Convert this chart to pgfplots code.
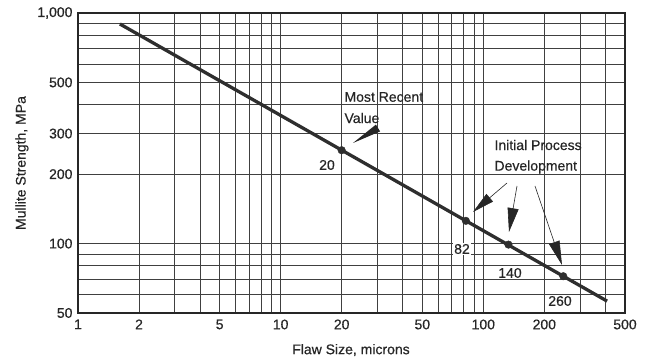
\documentclass[border=0pt]{standalone}
\usepackage{fontspec}
\setmainfont{Liberation Sans}[BoldFont=Liberation Sans, BoldFeatures={FakeBold=0.5}]
\usepackage{pgfplots}
\pgfplotsset{compat=1.18}
\usetikzlibrary{arrows.meta}
\begin{document}
\begin{tikzpicture}[x=1pt,y=1pt,font=\fontsize{14}{16}\selectfont\bfseries]
\useasboundingbox (0,0) rectangle (649,362);
\begin{axis}[
  at={(78pt,49pt)}, anchor=south west, scale only axis,
  width=547pt, height=300pt,
  xmode=log, ymode=log,
  xmin=1, xmax=500, ymin=50, ymax=1000,
  xtick={1,2,5,10,20,50,100,200,500},
  xticklabels={1,2,5,10,20,50,100,200,500},
  ytick={50,100,200,300,500,1000},
  yticklabels={50,100,200,300,500,{1,000}},
  minor xtick={3,4,6,7,8,9,30,40,60,70,80,90,300,400},
  minor ytick={60,70,80,90,400,600,700,800,900},
  grid=both,
  major grid style={black!75, line width=1pt},
  minor grid style={black!75, line width=1pt},
  axis line style={line width=2.8pt, black!85},
  major tick length=0pt, minor tick length=0pt,
  tick style={draw=none},
  ticklabel style={font=\fontsize{14}{16}\selectfont\bfseries, text=black!85},
  /pgf/number format/assume math mode=true,
  xticklabel style={yshift=-3pt},
  yticklabel style={xshift=-2pt},
]
\addplot[line width=3.3pt, black!82] coordinates {(1.61,896) (408,56.3)};
\addplot[only marks, mark=*, mark size=3.8pt, black!82] coordinates {(20,254) (82,125.5) (133,99) (248,72.2)};
\end{axis}
% axis titles
\node[text=black!85] at (351,12) {Flaw Size, microns};
\node[rotate=90, text=black!85] at (22,199) {Mullite Strength, MPa};
% annotations
\node[anchor=west, text=black!85] at (341,265) {Most Recent};
\node[anchor=west, text=black!85] at (341,244) {Value};
\fill[black!85] (353,219) -- (375.9,237.4) -- (380.1,230.6) -- cycle;
\node[anchor=west, text=black!85] at (491,217) {Initial Process};
\node[anchor=west, text=black!85] at (491,195) {Development};
\draw[black!85, line width=0.6pt, -{Triangle[length=22pt,width=10pt]}] (507,179) -- (473,150);
\draw[black!85, line width=0.6pt, -{Triangle[length=24pt,width=11pt]}] (517,176) -- (509,130);
\draw[black!85, line width=0.6pt, -{Triangle[length=24pt,width=11pt]}] (535,176) -- (562,97);
\node[fill=white, inner sep=1pt, text=black!85] at (327,197) {20};
\node[fill=white, inner sep=1pt, text=black!85] at (462,113) {82};
\node[fill=white, inner sep=1pt, text=black!85] at (510,89) {140};
\node[fill=white, inner sep=1pt, text=black!85] at (560,61) {260};
\end{tikzpicture}
\end{document}
